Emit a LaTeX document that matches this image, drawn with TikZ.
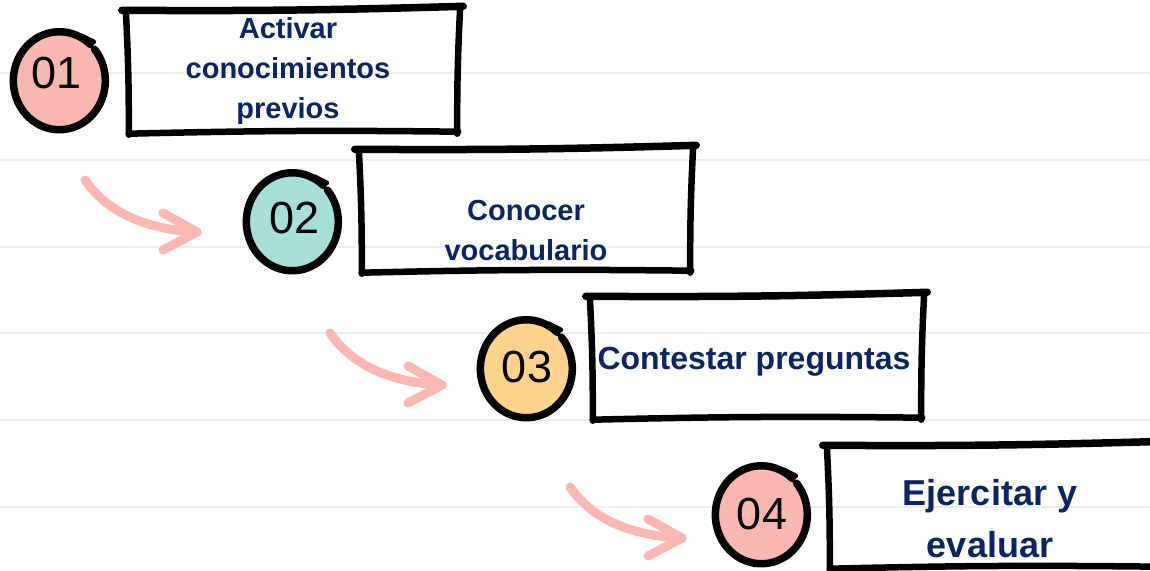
\documentclass[tikz,border=0pt]{standalone}
\usepackage{fontspec}
\setmainfont{Liberation Sans}
\usetikzlibrary{shapes.geometric}
\definecolor{navy}{HTML}{0B2463}
\definecolor{cpink}{HTML}{FAB6B1}
\definecolor{cteal}{HTML}{A6DED8}
\definecolor{corange}{HTML}{FDD38B}
\definecolor{apink}{HTML}{FCB7B3}
\definecolor{rule}{HTML}{EEEEEE}
\newcommand\sketchbox[1]{%
  \draw[sketch, line width=7.5pt] ([shift={(-4,1)}]#1.north west) to[bend right=1] ([shift={(3,-3)}]#1.north east);
  \draw[sketch] ([shift={(0,-3)}]#1.north east) to[bend right=1.5] ([shift={(-3,1)}]#1.south east);
  \draw[sketch] ([shift={(-2,-1)}]#1.south east) to[bend right=1] ([shift={(3,1)}]#1.south west);
  \draw[sketch] ([shift={(3,2)}]#1.south west) to[bend right=1.5] ([shift={(0,1)}]#1.north west);
}
\newcommand\sketchcirc[1]{%
  \draw[circstroke] (#1.center) ++(48:45pt and 48pt)
     arc[start angle=48, end angle=400, x radius=46pt, y radius=49pt];
  \draw[circstroke, line width=5pt] (#1.center) ++(62:46pt and 50pt) -- ++(12,6);
}
\begin{document}
\begin{tikzpicture}[x=1pt,y=-1pt,
  ruling/.style={draw=rule, line width=1.5pt},
  circ/.style={ellipse, inner sep=0pt, minimum width=92pt, minimum height=98pt},
  circstroke/.style={draw=black, line width=7.5pt, line cap=round},
  digit/.style={inner sep=0pt, font=\fontsize{45}{50}\selectfont, text=black},
  boxarea/.style={rectangle, inner sep=0pt, minimum width=334pt, minimum height=123pt},
  sketch/.style={draw=black, line width=6.5pt, line cap=round},
  boxtext/.style={inner sep=0pt, align=center, text=navy, font=\fontsize{29}{40}\selectfont\bfseries},
  pinkarrow/.style={draw=apink, line width=9pt, line cap=round, line join=round}]
\useasboundingbox (0,0) rectangle (1150,570);
\fill[white] (0,0) rectangle (1150,570);
\foreach \y in {73,160,247,333,420,507} \draw[ruling] (0,\y) -- (1150,\y);

% arrows
\coordinate (a1s) at (85,180);  \coordinate (a1e) at (197,232);
\coordinate (a2s) at (330,333); \coordinate (a2e) at (442,385);
\coordinate (a3s) at (570,487); \coordinate (a3e) at (682,538);
\foreach \i in {1,2,3}{
  \draw[pinkarrow] (a\i s) .. controls ([shift={(23,34)}]a\i s) and ([shift={(-47,-2)}]a\i e) .. (a\i e);
  \draw[pinkarrow] ([shift={(-34,-19)}]a\i e) -- (a\i e) -- ([shift={(-34,18)}]a\i e);
}

% circles
\node[circ, fill=cpink]   (c1) at (60,80) {};
\node[circ, fill=cteal]   (c2) at (293,221) {};
\node[circ, fill=corange] (c3) at (527,368) {};
\node[circ, fill=cpink]   (c4) at (762,514) {};
\foreach \c in {c1,c2,c3,c4} {\sketchcirc{\c}}
\node[digit] (d1) at (57,73) {01};
\node[digit] (d2) at (295,218) {02};
\node[digit] (d3) at (527,367) {03};
\node[digit] (d4) at (762,514) {04};

% boxes
\node[boxarea] (b1) at (293,71) {};
\node[boxarea] (b2) at (526,210) {};
\node[boxarea] (b3) at (757,357) {};
\node[boxarea] (b4) at (994,506) {};
\foreach \b in {b1,b2,b3,b4} {\sketchbox{\b}}
\node[boxtext] (t1) at (288,71) {Activar\\conocimientos\\previos};
\node[boxtext] (t2) at (526,231) {Conocer\\vocabulario};
\node[boxtext, font=\fontsize{32}{40}\selectfont\bfseries] (t3) at (754,362) {Contestar preguntas};
\node[boxtext, font=\fontsize{36}{52}\selectfont\bfseries] (t4) at (990,519) {Ejercitar y\\evaluar};
\end{tikzpicture}
\end{document}
